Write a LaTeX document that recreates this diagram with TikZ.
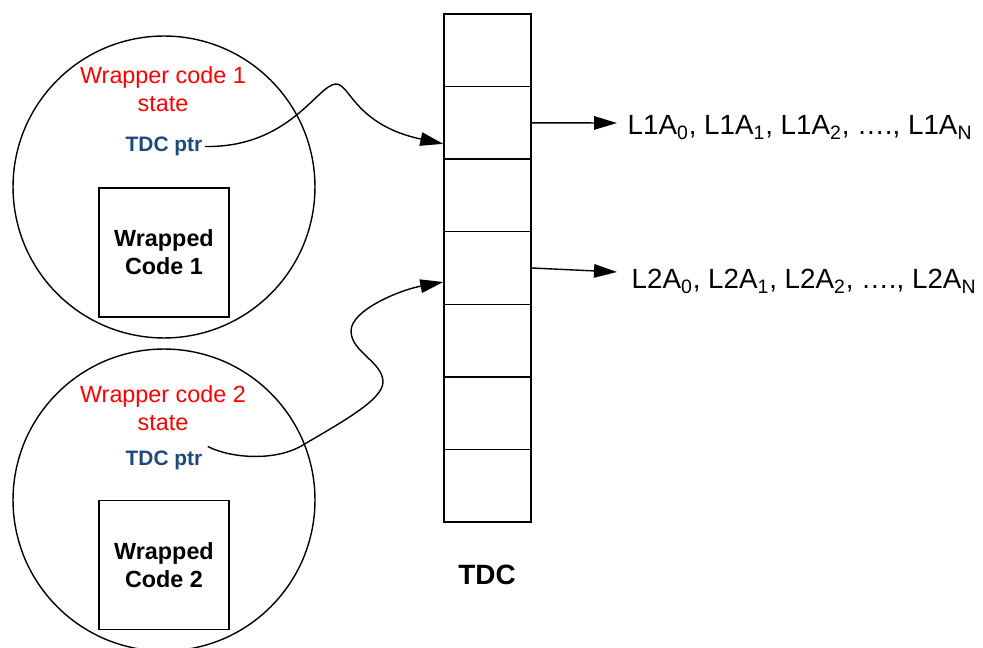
\documentclass[tikz,border=0pt]{standalone}
\usepackage{fontspec}
\setmainfont{Liberation Sans}
\usetikzlibrary{arrows.meta}
\definecolor{ptrblue}{RGB}{31,73,125}

\begin{document}
\begin{tikzpicture}[x=0.02cm, y=-0.02cm, line width=0.8pt,
    tip/.style={-{Triangle[length=0.46cm,width=0.27cm]}},
    cell/.style={draw, rectangle, minimum width=1.74cm, minimum height=1.452cm, inner sep=0pt},
    wrapped/.style={draw, rectangle, minimum width=2.6cm, minimum height=2.58cm, align=center, font=\fontsize{13.3}{16}\selectfont\bfseries},
    state/.style={align=center, text=red, font=\fontsize{13.3}{16}\selectfont},
    ptr/.style={text=ptrblue, font=\fontsize{11.9}{14}\selectfont\bfseries, inner sep=1pt},
    seq/.style={anchor=base west, inner sep=0pt, font=\fontsize{15.8}{18}\selectfont}]
    \useasboundingbox (0,0) rectangle (983,648);

    \node[draw, circle, minimum size=6.04cm] (ctx1) at (164,187) {};
    \node[draw, circle, minimum size=6.04cm] (ctx2) at (164,500) {};

    \node[state] (st1) at (163,89) {Wrapper code 1\\state};
    \node[ptr] (ptr1) at (164,146.5) {TDC ptr};
    \node[wrapped] (code1) at (164,252.5) {Wrapped\\Code 1};

    \node[state] (st2) at (163,408) {Wrapper code 2\\state};
    \node[ptr] (ptr2) at (164,460.5) {TDC ptr};
    \node[wrapped] (code2) at (164,565) {Wrapped\\Code 2};

    \foreach \i in {1,...,7}
        \node[cell] (cell\i) at (487.5,{14+72.57*(\i-0.5)}) {};
    \node[font=\fontsize{15.9}{18}\selectfont\bfseries] (tdc) at (487,575) {TDC};

    \draw[tip] (ptr1.east) .. controls (290,148) and (318,84) .. (336,84)
        .. controls (350,84) and (355,125) .. ([yshift=-0.42cm]cell2.west);
    \draw[tip] ([shift={(3,-14)}]ptr2.east) .. controls (230,458) and (275,462) .. (303,445)
        .. controls (340,423) and (383,400) .. (383,382)
        .. controls (383,362) and (351,352) .. (351,331)
        .. controls (351,310) and (400,290) .. ([yshift=-0.28cm]cell4.west);

    \coordinate (t1) at (617,123);
    \coordinate (t2) at (617,272);
    \draw[tip] (cell2.east) -- (t1);
    \draw[tip] (cell4.east) -- (t2);

    \node[seq] (seq1) at (627,135) {L1A\textsubscript{0}, L1A\textsubscript{1}, L1A\textsubscript{2}, …., L1A\textsubscript{N}};
    \node[seq] (seq2) at (631,289) {L2A\textsubscript{0}, L2A\textsubscript{1}, L2A\textsubscript{2}, …., L2A\textsubscript{N}};
\end{tikzpicture}
\end{document}
